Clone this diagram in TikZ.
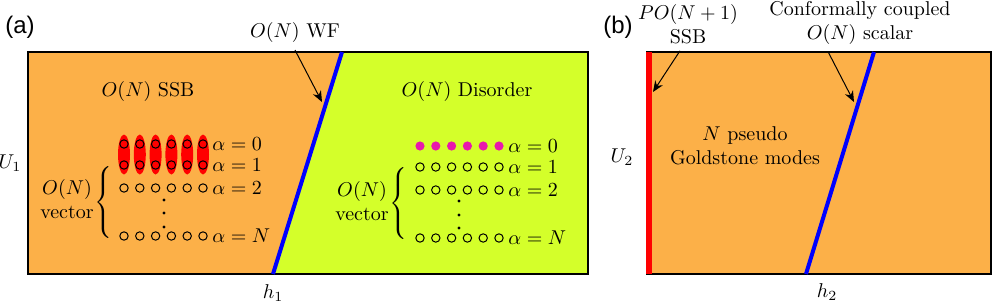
\documentclass[tikz,border=0pt]{standalone}
\usepackage{amsmath,amssymb}
\usepackage{fontspec}
\newfontfamily\panelfont{Liberation Sans}
\usetikzlibrary{arrows.meta,positioning,calc}
\definecolor{phOrange}{RGB}{252,176,72}
\definecolor{phGreen}{RGB}{212,255,42}
\definecolor{phMagenta}{RGB}{232,24,172}
\definecolor{phBlue}{RGB}{0,0,255}
\definecolor{phRed}{RGB}{255,0,0}
\newcommand{\bigbrace}{$\left\{\rule[-16.6pt]{0pt}{38.3pt}\right.$}

\begin{document}
\begin{tikzpicture}[x=0.5pt,y=-0.5pt,
  site/.style={circle,draw=black,line width=0.5pt,inner sep=0pt,minimum size=4.2pt},
  filled/.style={site,draw=none,fill=phMagenta,minimum size=4.6pt},
  frame/.style={draw=black,line width=0.6pt},
  crit/.style={draw=phBlue,line width=2pt},
  arr/.style={-{Stealth[length=5.5pt,width=4.5pt]},line width=0.5pt},
  panel/.style={font=\panelfont\fontsize{12}{14}\selectfont,inner sep=0pt}]
  \useasboundingbox (0,0) rectangle (997,305);
  % panel (a)
  \coordinate (wfTop) at (342,52);
  \coordinate (wfBot) at (273,274);
  \fill[phOrange] (28,52) -- (wfTop) -- (wfBot) -- (28,274) -- cycle;
  \fill[phGreen] (wfTop) -- (588,52) -- (588,274) -- (wfBot) -- cycle;
  \draw[frame] (28,52) rectangle (588,274);
  \draw[crit] (wfBot) -- (wfTop);
  \node[panel] (pa) at (20,27) {(a)};
  \node (wfA) at (295,33) {$O(N)$ WF};
  \coordinate (wfTip) at (322,102);
  \draw[arr] (wfA.south) -- (wfTip);
  \node (ssbA) at (148,91) {$O(N)$ SSB};
  \node (disA) at (467,92) {$O(N)$ Disorder};
  \node (u1) at (10,163) {$U_1$};
  \node (h1) at (273,293) {$h_1$};
  % ordered sites
  \foreach \i in {0,...,5}{
    \fill[phRed] ({124+15.8*\i},154.5) ellipse [x radius=3pt,y radius=10pt];
    \foreach \r/\y in {0/144,1/165,2/188,N/236}
      \node[site] (s\r-\i) at ({124+15.8*\i},\y) {};
  }
  \foreach \r/\y in {0/144,1/165,2/188,N/236}
    \node[anchor=west,inner sep=0pt] (al\r) at (212,\y) {$\alpha=\r$};
  \foreach \y in {200,213,227} \fill (164,\y) circle [radius=0.8pt];
  \node[inner sep=0pt] (brA) at (105,202) {\bigbrace};
  \node[align=center] (vecA) at (67,199) {$O(N)$\\vector};
  % disordered sites
  \foreach \i in {0,...,5}{
    \node[filled] (d0-\i) at ({420+15.8*\i},146) {};
    \foreach \r/\y in {1/167,2/190,N/238}
      \node[site] (d\r-\i) at ({420+15.8*\i},\y) {};
  }
  \foreach \r/\y in {0/146,1/167,2/190,N/238}
    \node[anchor=west,inner sep=0pt] (bl\r) at (508,\y) {$\alpha=\r$};
  \foreach \y in {201,215,228} \fill (459,\y) circle [radius=0.8pt];
  \node[inner sep=0pt] (brB) at (400,203) {\bigbrace};
  \node[align=center] (vecB) at (362,201) {$O(N)$\\vector};
  % panel (b)
  \fill[phOrange] (647,52) rectangle (991,274);
  \draw[frame] (647,52) rectangle (991,274);
  \draw[phRed,line width=3pt] (649,52) -- (649,274);
  \coordinate (ccTop) at (874,52);
  \coordinate (ccBot) at (806,274);
  \draw[crit] (ccBot) -- (ccTop);
  \node[panel] (pb) at (618,27) {(b)};
  \node[align=center] (ssbB) at (688,24) {$PO(N+1)$\\SSB};
  \coordinate (ssbTip) at (653,92);
  \draw[arr] ([xshift=-4pt]ssbB.south) -- (ssbTip);
  \node[align=center] (ccB) at (860,23) {Conformally coupled\\$O(N)$ scalar};
  \coordinate (ccTip) at (854,102);
  \draw[arr] ([xshift=-16pt]ccB.south) -- (ccTip);
  \node[align=center] (gold) at (745,146) {$N$ pseudo\\Goldstone modes};
  \node (u2) at (622,157) {$U_2$};
  \node (h2) at (827,292) {$h_2$};
\end{tikzpicture}
\end{document}
